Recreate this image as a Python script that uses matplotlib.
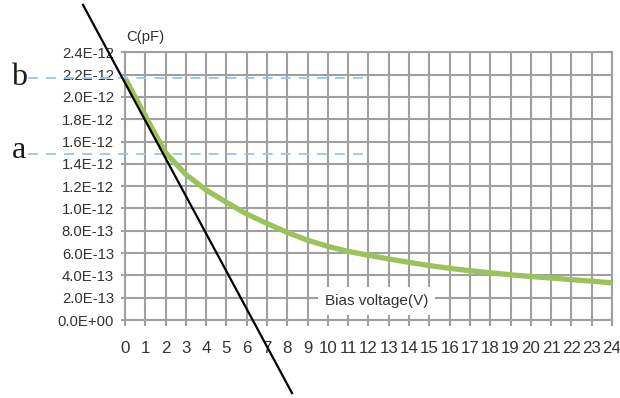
import matplotlib
matplotlib.use("Agg")
import matplotlib.pyplot as plt

# ---- data ----
bias_v = list(range(0, 25))
cap_pf = [2.17e-12, 1.83e-12, 1.50e-12, 1.305e-12, 1.165e-12, 1.055e-12, 0.95e-12,
          0.865e-12, 0.785e-12, 0.715e-12, 0.66e-12, 0.615e-12, 0.58e-12, 0.547e-12,
          0.517e-12, 0.488e-12, 0.463e-12, 0.442e-12, 0.424e-12, 0.405e-12,
          0.39e-12, 0.376e-12, 0.362e-12, 0.348e-12, 0.333e-12]

tangent_x = [-2.07, 8.23]
tangent_y = [2.825e-12, -0.655e-12]

ref_b = 2.172e-12
ref_a = 1.489e-12
ref_x = [-4.78, 11.92]

y_ticks = [i * 2e-13 for i in range(13)]
y_tick_labels = ["0.0E+00", "2.0E-13", "4.0E-13", "6.0E-13", "8.0E-13", "1.0E-12",
                 "1.2E-12", "1.4E-12", "1.6E-12", "1.8E-12", "2.0E-12", "2.2E-12",
                 "2.4E-12"]
x_ticks = list(range(0, 25))
x_tick_labels = [str(v) for v in x_ticks]

plt.rcParams['font.family'] = ['Liberation Sans', 'DejaVu Sans']

fig = plt.figure(figsize=(6.2, 3.98), dpi=100)
W, H = 620, 398
ax = fig.add_axes([125 / W, 1 - 320 / H, (612 - 125) / W, (320 - 52.3) / H])

grid_c = '#a0a0a0'
ax.set_xlim(0, 24)
ax.set_ylim(0, 2.4e-12)
ax.set_xticks(x_ticks)
ax.set_xticklabels(x_tick_labels, fontsize=12.2, color='#333333')
ax.set_yticks(y_ticks)
ax.set_yticklabels(y_tick_labels, fontsize=10.7, color='#333333')
ax.grid(True, color=grid_c, linewidth=1.5, zorder=0)
ax.set_axisbelow(True)
for s in ax.spines.values():
    s.set_color(grid_c)
    s.set_linewidth(1.5)
ax.tick_params(axis='x', length=4, width=1.5, color=grid_c, pad=11)
ax.tick_params(axis='y', length=3, width=1.5, color=grid_c, pad=5)

ax.plot(bias_v, cap_pf, color='#9bc25b', linewidth=3.8, zorder=3,
        solid_capstyle='butt', solid_joinstyle='round')

ax.plot(tangent_x, tangent_y, color='black', linewidth=1.6, zorder=6,
        clip_on=False)

for yv in (ref_b, ref_a):
    ax.plot(ref_x, [yv, yv], color='#9ec3e6', linewidth=1.3,
            linestyle=(0, (5.5, 4.5)), zorder=4, clip_on=False)

fig.text(11.5 / W, 1 - 85 / H, 'b', fontsize=23, family='Liberation Serif',
         ha='left', va='baseline', color='#1a1a1a')
fig.text(11.5 / W, 1 - 158.3 / H, 'a', fontsize=23, family='Liberation Serif',
         ha='left', va='baseline', color='#1a1a1a')

fig.text(126 / W, 1 - 37 / H, 'C(pF)', fontsize=10.7, color='#333333',
         ha='left', va='center')

ax.text(12.4, 1.72e-13, 'Bias voltage(V)', fontsize=11, color='#333333',
        ha='center', va='center', zorder=5,
        bbox=dict(facecolor='white', edgecolor='none', pad=5))

fig.savefig('out.png', dpi=100)
